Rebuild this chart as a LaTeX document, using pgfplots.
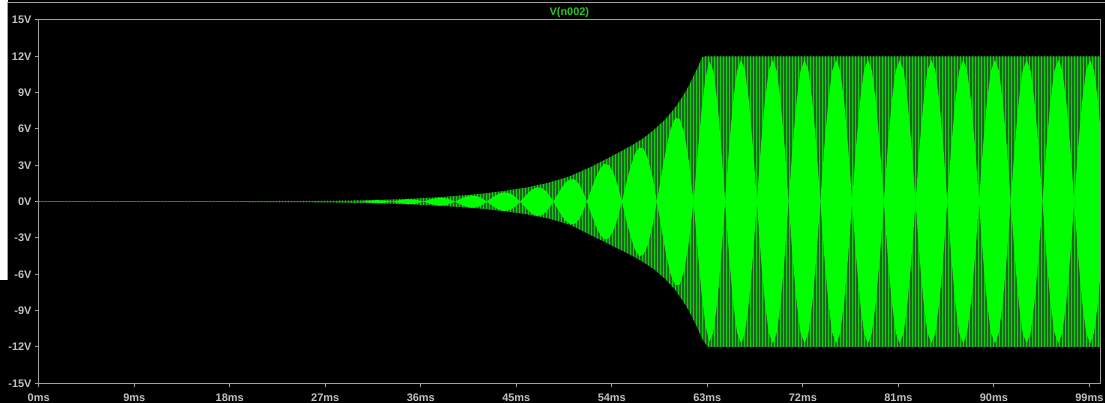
\documentclass[border=0pt]{standalone}
\usepackage{pgfplots}
\pgfplotsset{compat=1.18}
\usepackage{fontspec}
\setmainfont{Liberation Sans}
\usetikzlibrary{patterns.meta}
\definecolor{lab}{RGB}{195,195,195}
\definecolor{frm}{RGB}{160,160,160}
\definecolor{lobe}{RGB}{0,255,0}
\definecolor{strd}{RGB}{34,100,34}
\definecolor{strl}{RGB}{0,220,0}
\definecolor{ttl}{RGB}{40,200,40}
\definecolor{flatc}{RGB}{30,150,30}
\begin{document}
\begin{tikzpicture}
\fill[black] (-38.7bp,-19.7bp) rectangle (1066.3bp,383.3bp);
\useasboundingbox (-38.7bp,-19.7bp) rectangle (1066.3bp,383.3bp);
\fill[white] (-38.7bp,103.3bp) rectangle (-30.7bp,383.3bp);
\draw[frm, line width=1bp] (-30.7bp,103.3bp) -- (-30.7bp,380.3bp) -- (1066.3bp,380.3bp);
\begin{axis}[at={(0,0)}, anchor=south west, scale only axis,
  width=1061.3bp, height=363.3bp,
  xmin=0, xmax=100, ymin=-15, ymax=15,
  axis line style={frm, line width=1bp},
  tick style={frm, line width=1bp}, major tick length=4bp, tick align=outside,
  xtick pos=bottom, ytick pos=left,
  xtick={0,9,18,27,36,45,54,63,72,81,90,99},
  xticklabels={0ms,9ms,18ms,27ms,36ms,45ms,54ms,63ms,72ms,81ms,90ms,99ms},
  ytick={-15,-12,-9,-6,-3,0,3,6,9,12,15},
  yticklabels={-15V,-12V,-9V,-6V,-3V,0V,3V,6V,9V,12V,15V},
  ticklabel style={text=lab, font=\fontsize{11}{12}\selectfont\bfseries},
  xticklabel style={anchor=base, inner sep=0pt, yshift=-14bp},
  yticklabel style={anchor=east, inner sep=0pt, xshift=-3bp},
  title={V(n002)},
  title style={at={(0.5,1)}, anchor=center, yshift=1bp, text=ttl, inner sep=0pt, font=\fontsize{11}{12}\selectfont\bfseries},
]
% envelope (striped region)
\pgfplotstableread{
t y
0 0.02
22 0.03
26 0.05
28 0.07
30 0.10
32 0.14
34 0.20
36 0.28
38 0.38
40 0.52
42 0.68
44 0.90
46 1.17
48 1.55
50 2.08
52 2.85
54 3.75
55 4.22
56 4.70
57 5.25
58 5.95
59 6.75
60 7.80
60.5 8.45
61 9.15
61.5 10.0
62 10.9
62.5 11.9
62.7 12.0
100 12.0
100 -12.0
63.2 -12.0
63 -11.95
62.5 -11.3
62 -10.3
61.5 -9.4
61 -8.6
60.5 -7.95
60 -7.3
59 -6.35
58 -5.6
57 -5.0
56 -4.50
55 -4.05
54 -3.62
52 -2.75
50 -1.88
48 -1.38
46 -1.04
44 -0.80
42 -0.60
40 -0.46
38 -0.35
36 -0.26
34 -0.19
32 -0.13
30 -0.10
28 -0.07
26 -0.05
22 -0.03
0 -0.02
}\envtab
\addplot[draw=flatc, line width=1.3bp] coordinates {(0,0) (31,0)};
\addplot[draw=none, fill=strd] table[x=t,y=y] {\envtab};
\addplot[draw=none, pattern={Lines[angle=90,distance=3bp,line width=1bp]}, pattern color=strl] table[x=t,y=y] {\envtab};
% bright lobes
\addplot[draw=none, fill=lobe] coordinates {(30.4,0) (31.125,0.076) (31.85,0.122) (32.575,0.099) (33.3,0) (32.575,-0.099) (31.85,-0.122) (31.125,-0.076)};
\addplot[draw=none, fill=lobe] coordinates {(33.3,0) (34.04,0.127) (34.78,0.206) (35.51,0.163) (36.25,0) (35.51,-0.163) (34.78,-0.206) (34.04,-0.127)};
\addplot[draw=none, fill=lobe] coordinates {(36.25,0) (37.0,0.206) (37.74,0.325) (38.49,0.257) (39.24,0) (38.49,-0.257) (37.74,-0.325) (37.0,-0.206)};
\addplot[draw=none, fill=lobe] coordinates {(39.24,0) (39.61,0.164) (39.99,0.318) (40.36,0.440) (40.73,0.501) (41.10,0.487) (41.48,0.391) (41.85,0.221) (42.22,0) (41.85,-0.221) (41.48,-0.391) (41.10,-0.487) (40.73,-0.501) (40.36,-0.440) (39.99,-0.318) (39.61,-0.164)};
\addplot[draw=none, fill=lobe] coordinates {(42.22,0) (42.61,0.248) (43.01,0.485) (43.40,0.669) (43.79,0.762) (44.18,0.742) (44.58,0.601) (44.97,0.343) (45.36,0) (44.97,-0.343) (44.58,-0.601) (44.18,-0.742) (43.79,-0.762) (43.40,-0.669) (43.01,-0.485) (42.61,-0.248)};
\addplot[draw=none, fill=lobe] coordinates {(45.36,0) (45.75,0.378) (46.15,0.736) (46.54,1.022) (46.93,1.171) (47.32,1.142) (47.72,0.920) (48.11,0.526) (48.5,0) (48.11,-0.526) (47.72,-0.920) (47.32,-1.142) (46.93,-1.171) (46.54,-1.022) (46.15,-0.736) (45.75,-0.378)};
\addplot[draw=none, fill=lobe] coordinates {(48.5,0) (48.89,0.597) (49.29,1.169) (49.68,1.613) (50.08,1.850) (50.47,1.847) (50.86,1.518) (51.26,0.879) (51.65,0) (51.26,-0.879) (50.86,-1.518) (50.47,-1.847) (50.08,-1.850) (49.68,-1.613) (49.29,-1.169) (48.89,-0.597)};
\addplot[draw=none, fill=lobe] coordinates {(51.65,0) (52.06,0.997) (52.48,1.959) (52.89,2.716) (53.3,3.108) (53.71,3.028) (54.13,2.436) (54.54,1.384) (54.95,0) (54.54,-1.384) (54.13,-2.436) (53.71,-3.028) (53.3,-3.108) (52.89,-2.716) (52.48,-1.959) (52.06,-0.997)};
\addplot[draw=none, fill=lobe] coordinates {(54.95,0) (55.36,1.513) (55.78,2.911) (56.19,3.973) (56.6,4.499) (57.01,4.342) (57.43,3.497) (57.84,1.989) (58.25,0) (57.84,-1.989) (57.43,-3.497) (57.01,-4.342) (56.6,-4.499) (56.19,-3.973) (55.78,-2.911) (55.36,-1.513)};
\addplot[draw=none, fill=lobe] coordinates {(58.25,0) (58.68,2.211) (59.11,4.316) (59.54,6.006) (59.98,6.897) (60.41,6.844) (60.84,5.603) (61.27,3.278) (61.7,0) (61.27,-3.278) (60.84,-5.603) (60.41,-6.844) (59.98,-6.897) (59.54,-6.006) (59.11,-4.316) (58.68,-2.211)};
\addplot[draw=none, fill=lobe] coordinates {(61.7,0) (62.07,3.785) (62.45,7.473) (62.82,10.17) (63.19,11.58) (63.56,10.81) (63.94,8.272) (64.31,4.481) (64.68,0) (64.31,-4.481) (63.94,-8.272) (63.56,-10.81) (63.19,-11.58) (62.82,-10.17) (62.45,-7.473) (62.07,-3.785)};
\addplot[draw=none, fill=lobe] coordinates {(64.68,0) (65.05,4.481) (65.43,8.272) (65.80,10.81) (66.18,11.7) (66.55,10.81) (66.92,8.272) (67.30,4.481) (67.67,0) (67.30,-4.481) (66.92,-8.272) (66.55,-10.81) (66.18,-11.7) (65.80,-10.81) (65.43,-8.272) (65.05,-4.481)};
\addplot[draw=none, fill=lobe] coordinates {(67.67,0) (68.04,4.481) (68.42,8.272) (68.79,10.81) (69.17,11.7) (69.54,10.81) (69.91,8.272) (70.29,4.481) (70.66,0) (70.29,-4.481) (69.91,-8.272) (69.54,-10.81) (69.17,-11.7) (68.79,-10.81) (68.42,-8.272) (68.04,-4.481)};
\addplot[draw=none, fill=lobe] coordinates {(70.66,0) (71.03,4.481) (71.41,8.272) (71.78,10.81) (72.16,11.7) (72.53,10.81) (72.90,8.272) (73.28,4.481) (73.65,0) (73.28,-4.481) (72.90,-8.272) (72.53,-10.81) (72.16,-11.7) (71.78,-10.81) (71.41,-8.272) (71.03,-4.481)};
\addplot[draw=none, fill=lobe] coordinates {(73.65,0) (74.02,4.481) (74.40,8.272) (74.77,10.81) (75.15,11.7) (75.52,10.81) (75.89,8.272) (76.27,4.481) (76.64,0) (76.27,-4.481) (75.89,-8.272) (75.52,-10.81) (75.15,-11.7) (74.77,-10.81) (74.40,-8.272) (74.02,-4.481)};
\addplot[draw=none, fill=lobe] coordinates {(76.64,0) (77.01,4.481) (77.39,8.272) (77.76,10.81) (78.14,11.7) (78.51,10.81) (78.88,8.272) (79.26,4.481) (79.63,0) (79.26,-4.481) (78.88,-8.272) (78.51,-10.81) (78.14,-11.7) (77.76,-10.81) (77.39,-8.272) (77.01,-4.481)};
\addplot[draw=none, fill=lobe] coordinates {(79.63,0) (80.00,4.481) (80.38,8.272) (80.75,10.81) (81.13,11.7) (81.50,10.81) (81.87,8.272) (82.25,4.481) (82.62,0) (82.25,-4.481) (81.87,-8.272) (81.50,-10.81) (81.13,-11.7) (80.75,-10.81) (80.38,-8.272) (80.00,-4.481)};
\addplot[draw=none, fill=lobe] coordinates {(82.62,0) (82.99,4.481) (83.37,8.272) (83.74,10.81) (84.12,11.7) (84.49,10.81) (84.86,8.272) (85.24,4.481) (85.61,0) (85.24,-4.481) (84.86,-8.272) (84.49,-10.81) (84.12,-11.7) (83.74,-10.81) (83.37,-8.272) (82.99,-4.481)};
\addplot[draw=none, fill=lobe] coordinates {(85.61,0) (85.98,4.481) (86.36,8.272) (86.73,10.81) (87.11,11.7) (87.48,10.81) (87.85,8.272) (88.23,4.481) (88.60,0) (88.23,-4.481) (87.85,-8.272) (87.48,-10.81) (87.11,-11.7) (86.73,-10.81) (86.36,-8.272) (85.98,-4.481)};
\addplot[draw=none, fill=lobe] coordinates {(88.60,0) (88.97,4.481) (89.35,8.272) (89.72,10.81) (90.10,11.7) (90.47,10.81) (90.84,8.272) (91.22,4.481) (91.59,0) (91.22,-4.481) (90.84,-8.272) (90.47,-10.81) (90.10,-11.7) (89.72,-10.81) (89.35,-8.272) (88.97,-4.481)};
\addplot[draw=none, fill=lobe] coordinates {(91.59,0) (91.96,4.481) (92.34,8.272) (92.71,10.81) (93.09,11.7) (93.46,10.81) (93.83,8.272) (94.21,4.481) (94.58,0) (94.21,-4.481) (93.83,-8.272) (93.46,-10.81) (93.09,-11.7) (92.71,-10.81) (92.34,-8.272) (91.96,-4.481)};
\addplot[draw=none, fill=lobe] coordinates {(94.58,0) (94.95,4.481) (95.33,8.272) (95.70,10.81) (96.08,11.7) (96.45,10.81) (96.82,8.272) (97.20,4.481) (97.57,0) (97.20,-4.481) (96.82,-8.272) (96.45,-10.81) (96.08,-11.7) (95.70,-10.81) (95.33,-8.272) (94.95,-4.481)};
\addplot[draw=none, fill=lobe] coordinates {(97.57,0) (97.94,4.481) (98.32,8.272) (98.69,10.81) (99.07,11.7) (99.44,10.81) (99.81,8.272) (100.19,4.481) (100.56,0) (100.19,-4.481) (99.81,-8.272) (99.44,-10.81) (99.07,-11.7) (98.69,-10.81) (98.32,-8.272) (97.94,-4.481)};
\end{axis}
\end{tikzpicture}
\end{document}
